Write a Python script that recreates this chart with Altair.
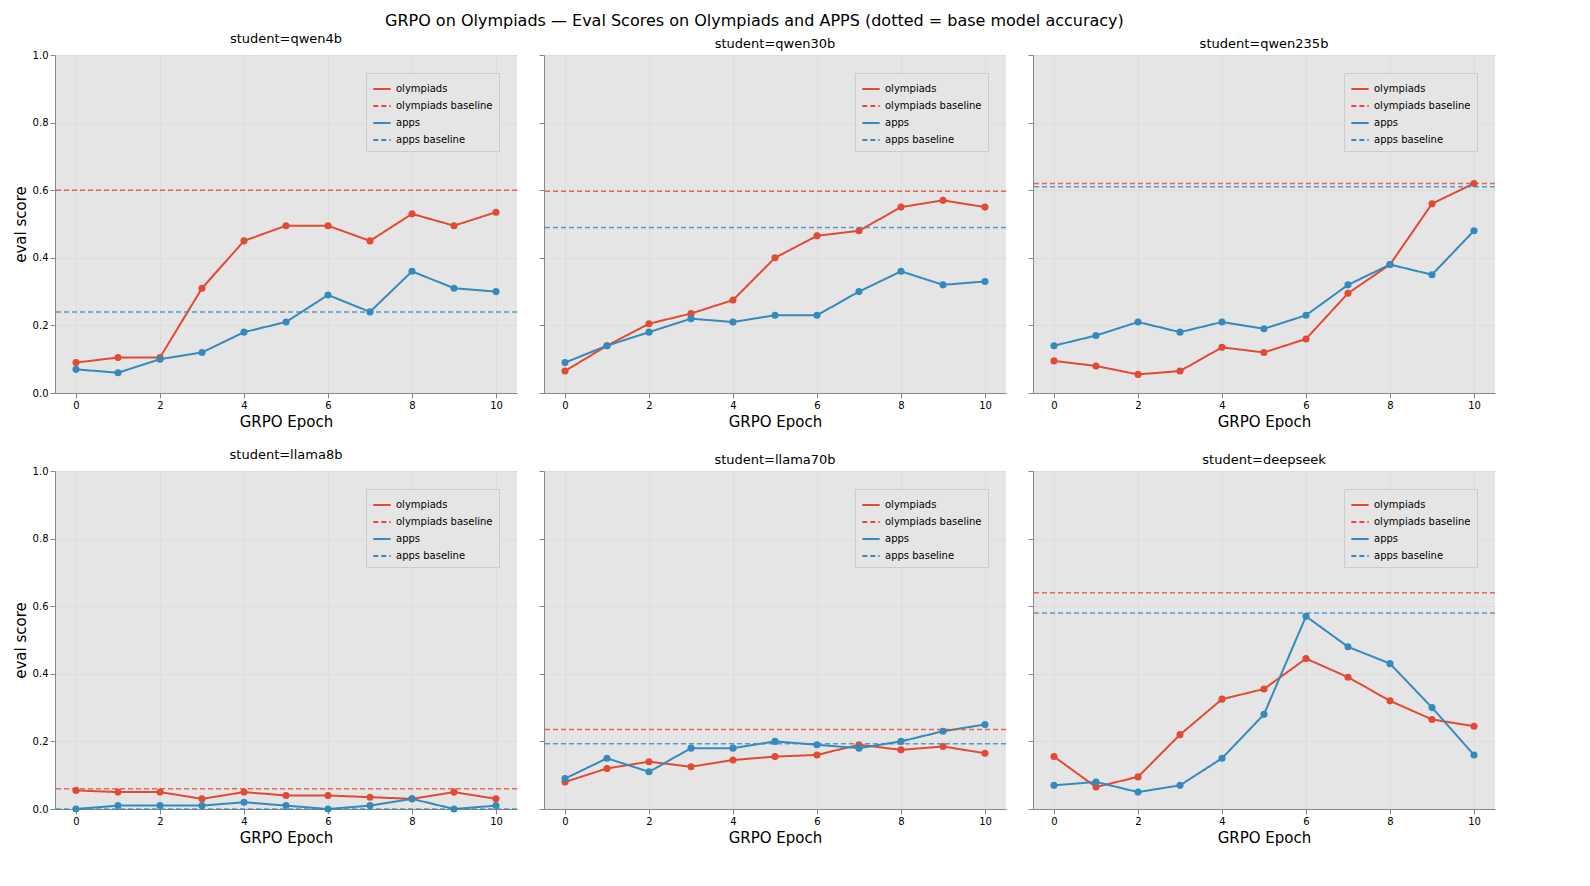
import altair as alt
import pandas as pd

RED = "#E24A33"
BLUE = "#348ABD"

epochs = list(range(11))
students = ["qwen4b", "qwen30b", "qwen235b", "llama8b", "llama70b", "deepseek"]

olympiads = {
    "qwen4b": [0.09, 0.105, 0.105, 0.31, 0.45, 0.495, 0.495, 0.45, 0.53, 0.495, 0.535],
    "qwen30b": [0.065, 0.14, 0.205, 0.235, 0.275, 0.40, 0.465, 0.48, 0.55, 0.57, 0.55],
    "qwen235b": [0.095, 0.08, 0.055, 0.065, 0.135, 0.12, 0.16, 0.295, 0.38, 0.56, 0.62],
    "llama8b": [0.055, 0.05, 0.05, 0.03, 0.05, 0.04, 0.04, 0.035, 0.03, 0.05, 0.03],
    "llama70b": [0.08, 0.12, 0.14, 0.125, 0.145, 0.155, 0.16, 0.19, 0.175, 0.185, 0.165],
    "deepseek": [0.155, 0.065, 0.095, 0.22, 0.325, 0.355, 0.445, 0.39, 0.32, 0.265, 0.245],
}
apps = {
    "qwen4b": [0.07, 0.06, 0.10, 0.12, 0.18, 0.21, 0.29, 0.24, 0.36, 0.31, 0.30],
    "qwen30b": [0.09, 0.14, 0.18, 0.22, 0.21, 0.23, 0.23, 0.30, 0.36, 0.32, 0.33],
    "qwen235b": [0.14, 0.17, 0.21, 0.18, 0.21, 0.19, 0.23, 0.32, 0.38, 0.35, 0.48],
    "llama8b": [0.0, 0.01, 0.01, 0.01, 0.02, 0.01, 0.0, 0.01, 0.03, 0.0, 0.01],
    "llama70b": [0.09, 0.15, 0.11, 0.18, 0.18, 0.20, 0.19, 0.18, 0.20, 0.23, 0.25],
    "deepseek": [0.07, 0.08, 0.05, 0.07, 0.15, 0.28, 0.57, 0.48, 0.43, 0.30, 0.16],
}
olympiads_base = {"qwen4b": 0.60, "qwen30b": 0.597, "qwen235b": 0.62,
                  "llama8b": 0.06, "llama70b": 0.235, "deepseek": 0.64}
apps_base = {"qwen4b": 0.24, "qwen30b": 0.49, "qwen235b": 0.61,
             "llama8b": 0.0, "llama70b": 0.193, "deepseek": 0.58}

domain = ["olympiads", "olympiads baseline", "apps", "apps baseline"]
legend = alt.Legend(title=None, orient="top-right", fillColor="#E5E5E5",
                    strokeColor="#CCCCCC", padding=6, labelFontSize=10, rowPadding=2,
                    symbolType="stroke", symbolSize=300, symbolStrokeWidth=2)
color = alt.Color("series:N", scale=alt.Scale(domain=domain, range=[RED, RED, BLUE, BLUE]),
                  legend=legend)
dash = alt.StrokeDash("series:N", scale=alt.Scale(domain=domain, range=[[1, 0], [5, 3], [1, 0], [5, 3]]),
                      legend=legend)


def panel(student, left):
    rows = []
    for e in epochs:
        rows.append({"epoch": e, "score": olympiads[student][e], "series": "olympiads"})
        rows.append({"epoch": e, "score": apps[student][e], "series": "apps"})
    df = pd.DataFrame(rows)
    base_df = pd.DataFrame([
        {"score": olympiads_base[student], "series": "olympiads baseline"},
        {"score": apps_base[student], "series": "apps baseline"},
    ])
    x = alt.X("epoch:Q", title="GRPO Epoch", scale=alt.Scale(domain=[-0.5, 10.5], nice=False),
              axis=alt.Axis(values=[0, 2, 4, 6, 8, 10], titleFontSize=15, titleFontWeight="normal"))
    y = alt.Y("score:Q", title="eval score" if left else None,
              scale=alt.Scale(domain=[0, 1], nice=False),
              axis=alt.Axis(values=[0, 0.2, 0.4, 0.6, 0.8, 1.0], format=".1f", labels=left,
                            titleFontSize=15, titleFontWeight="normal"))
    lines = alt.Chart(df).mark_line(point=alt.OverlayMarkDef(size=50, filled=True), strokeWidth=2).encode(
        x=x, y=y, color=color, strokeDash=dash)
    rules = alt.Chart(base_df).mark_rule(strokeWidth=1.5, opacity=0.8).encode(
        y="score:Q", color=color, strokeDash=dash)
    return alt.layer(lines, rules).properties(
        width=462, height=338,
        view=alt.ViewConfig(fill="#E5E5E5", stroke=None),
        title=alt.TitleParams(f"student={student}", fontSize=13, fontWeight="normal"))


def row(names):
    return alt.hconcat(*[panel(s, s in ("qwen4b", "llama8b")) for s in names], spacing=20).resolve_scale(
        color="independent", strokeDash="independent")


chart = alt.vconcat(row(students[:3]), row(students[3:]), spacing=20).resolve_scale(
    color="independent", strokeDash="independent"
).properties(
    title=alt.TitleParams("GRPO on Olympiads — Eval Scores on Olympiads and APPS (dotted = base model accuracy)",
                          fontSize=16, fontWeight="normal", anchor="middle")
).configure_axis(
    gridColor="white", domain=False, tickColor="#555", labelColor="#333", labelFontSize=11,
    titleColor="black"
).configure(font="DejaVu Sans")

chart.save("out.html", embed_options={"renderer": "svg", "actions": False})
